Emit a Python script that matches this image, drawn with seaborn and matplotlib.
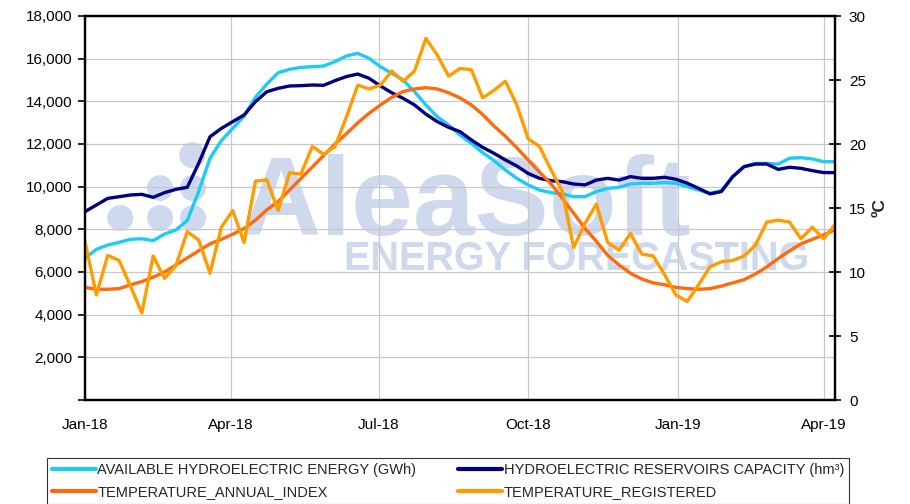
import matplotlib
matplotlib.use('Agg')

import numpy as np
import pandas as pd
import seaborn as sns
import matplotlib.pyplot as plt
import matplotlib.dates as mdates
from matplotlib.patches import Ellipse
from matplotlib.ticker import FuncFormatter, MultipleLocator

# weekly series, Jan-2018 .. Apr-2019
start_date = "2018-01-01"
n_weeks = 67

hydro_energy = [6640, 7060, 7265, 7390, 7530, 7560, 7470, 7780, 7970, 8410,
                9770, 11330, 12160, 12730, 13310, 14190, 14810, 15340, 15500, 15590,
                15625, 15655, 15860, 16125, 16250, 16015, 15625, 15310, 15000, 14450,
                13830, 13280, 12890, 12420, 12030, 11590, 11220, 10780, 10390, 10080,
                9840, 9720, 9660, 9530, 9530, 9770, 9920, 9970, 10125, 10160,
                10160, 10190, 10160, 10000, 9840, 9690, 9810, 10470, 10940, 11090,
                11090, 11060, 11330, 11360, 11300, 11170, 11170]

reservoirs = [8830, 9140, 9450, 9530, 9610, 9640, 9500, 9720, 9875, 9970,
              11090, 12340, 12730, 13050, 13360, 13985, 14450, 14610, 14720, 14735,
              14765, 14750, 14970, 15160, 15280, 15080, 14720, 14400, 14140, 13830,
              13400, 13050, 12780, 12580, 12190, 11840, 11560, 11250, 10970, 10620,
              10390, 10280, 10235, 10125, 10080, 10310, 10390, 10310, 10470, 10390,
              10390, 10440, 10345, 10160, 9920, 9660, 9770, 10470, 10940, 11060,
              11060, 10810, 10910, 10860, 10750, 10660, 10660]

temp_index = [8.8, 8.65, 8.65, 8.7, 9.0, 9.25, 9.6, 10.0, 10.55, 11.1,
              11.65, 12.2, 12.55, 12.95, 13.4, 14.05, 14.85, 15.5, 16.4, 17.3,
              18.2, 19.1, 20.0, 20.8, 21.65, 22.4, 23.05, 23.65, 24.1, 24.3,
              24.4, 24.3, 24.0, 23.6, 23.05, 22.3, 21.4, 20.6, 19.7, 18.75,
              17.8, 16.9, 15.75, 14.6, 13.4, 12.4, 11.3, 10.55, 9.9, 9.45,
              9.15, 9.0, 8.8, 8.7, 8.65, 8.7, 8.9, 9.15, 9.4, 9.85,
              10.4, 11.05, 11.65, 12.2, 12.55, 12.9, 13.3]

temp_registered = [12.4, 8.2, 11.3, 10.9, 8.9, 6.8, 11.25, 9.5, 10.5, 13.15,
                   12.5, 9.9, 13.5, 14.8, 12.3, 17.1, 17.2, 14.8, 17.75, 17.65,
                   19.8, 19.2, 19.8, 22.1, 24.6, 24.3, 24.6, 25.7, 24.9, 25.7,
                   28.25, 26.95, 25.3, 25.9, 25.8, 23.6, 24.2, 24.9, 23.05, 20.4,
                   19.8, 18.0, 16.3, 11.9, 13.8, 15.3, 12.3, 11.7, 13.0, 11.4,
                   11.25, 9.8, 8.2, 7.7, 9.0, 10.4, 10.8, 10.9, 11.25, 12.1,
                   13.9, 14.05, 13.9, 12.6, 13.5, 12.6, 13.7]

labels = {
    "energy": "AVAILABLE HYDROELECTRIC ENERGY (GWh)",
    "reserv": "HYDROELECTRIC RESERVOIRS CAPACITY (hm³)",
    "t_index": "TEMPERATURE_ANNUAL_INDEX",
    "t_reg": "TEMPERATURE_REGISTERED",
}

dates = pd.date_range(start_date, periods=n_weeks, freq="7D")
df = pd.DataFrame({"date": dates, "energy": hydro_energy, "reserv": reservoirs,
                   "t_index": temp_index, "t_reg": temp_registered})

sns.set_style("white")
plt.rcParams['font.family'] = ['Liberation Sans', 'DejaVu Sans']

fig = plt.figure(figsize=(9.1, 5.04), dpi=100)
ax = fig.add_axes([85 / 910, 1 - 400 / 504, 750 / 910, 384 / 504])
ax2 = ax.twinx()

# watermark (logo dots + text), behind the grid
wm = "#cfd9ed"
dot_w, dot_h = 26 / 750, 26 / 384
for (cx, cy) in [(0.047, 0.474), (0.1, 0.474), (0.144, 0.474),
                 (0.1, 0.552), (0.144, 0.552), (0.143, 0.638)]:
    ax.add_patch(Ellipse((cx, cy), dot_w, dot_h, transform=ax.transAxes,
                         color=wm, zorder=0.1, ec="none"))
ax.text(0.207, 0.43, "AleaSoft", transform=ax.transAxes, fontsize=80,
        fontweight="bold", color=wm, zorder=0.1, va="baseline")
ax.text(0.345, 0.338, "ENERGY FORECASTING", transform=ax.transAxes,
        fontsize=28.5, fontweight="bold", color=wm, zorder=0.1, va="baseline")

lw = 2.4
sns.lineplot(data=df, x="date", y="energy", ax=ax, color="#1accf7", lw=lw,
             label=labels["energy"], legend=False)
sns.lineplot(data=df, x="date", y="reserv", ax=ax, color="#000080", lw=lw,
             label=labels["reserv"], legend=False)
sns.lineplot(data=df, x="date", y="t_index", ax=ax2, color="#ff6a0d", lw=lw,
             label=labels["t_index"], legend=False)
sns.lineplot(data=df, x="date", y="t_reg", ax=ax2, color="#ff9c00", lw=lw,
             label=labels["t_reg"], legend=False)

ax.set_xlim(pd.Timestamp("2018-01-01"), pd.Timestamp("2019-04-08"))
ax.set_ylim(0, 18000)
ax2.set_ylim(0, 30)
ax.yaxis.set_major_locator(MultipleLocator(2000))
ax.yaxis.set_major_formatter(FuncFormatter(lambda v, p: "" if v == 0 else f"{v:,.0f}"))
ax2.yaxis.set_major_locator(MultipleLocator(5))
ax.xaxis.set_major_locator(mdates.MonthLocator(bymonth=[1, 4, 7, 10]))
ax.xaxis.set_major_formatter(mdates.DateFormatter("%b-%y"))

ax.grid(True, color="#c8c8c8", lw=0.9)
ax.set_axisbelow(True)
ax.set_xlabel("")
ax.set_ylabel("")
ax2.set_xlabel("")
ax2.set_ylabel("ºC", fontsize=12.5, fontweight="bold", labelpad=5)

for a in (ax, ax2):
    for s in a.spines.values():
        s.set_color("black")
        s.set_linewidth(1.6)
ax.tick_params(axis="both", labelsize=11, length=5, width=1.2, direction="out",
               colors="black", pad=4)
ax.tick_params(axis="x", pad=8)
ax2.tick_params(axis="y", labelsize=11, length=8, width=1.2, direction="inout",
                colors="black", pad=6)

h1, l1 = ax.get_legend_handles_labels()
h2, l2 = ax2.get_legend_handles_labels()
handles = [h1[0], h2[0], h1[1], h2[1]]
names = [l1[0], l2[0], l1[1], l2[1]]
leg = fig.legend(handles, names, loc="upper left", ncol=2,
                 bbox_to_anchor=(47 / 910, 1 - 458 / 504, 802 / 910, 0.0),
                 mode="expand", frameon=True, fancybox=False, edgecolor="black",
                 prop={"family": ["Liberation Sans Narrow", "Liberation Sans"], "size": 10.5},
                 handlelength=3.0, handletextpad=0.1, labelspacing=0.55,
                 borderpad=0.35, borderaxespad=0)
leg.get_frame().set_linewidth(0.8)
for ln in leg.get_lines():
    ln.set_linewidth(3)

fig.savefig("out.png", dpi=100, facecolor="white")
